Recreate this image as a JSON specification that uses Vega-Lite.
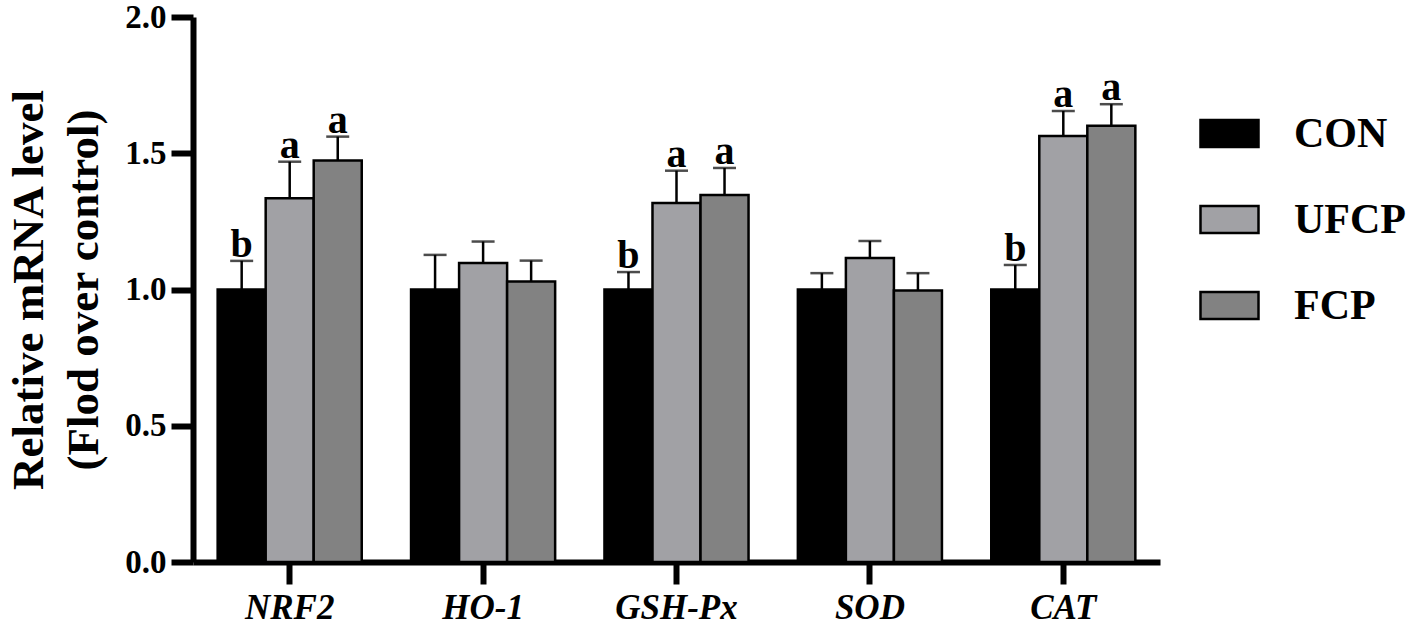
{
  "$schema": "https://vega.github.io/schema/vega-lite/v6.json",
  "autosize": "none",
  "padding": {"left": 193, "top": 17, "right": 257, "bottom": 66},
  "width": 967,
  "height": 545,
  "background": "white",
  "data": {
    "values": [
      {"gene": "NRF2", "group": "CON", "value": 1.0, "upper": 1.105, "letter": "b"},
      {"gene": "NRF2", "group": "UFCP", "value": 1.335, "upper": 1.469, "letter": "a"},
      {"gene": "NRF2", "group": "FCP", "value": 1.473, "upper": 1.561, "letter": "a"},
      {"gene": "HO-1", "group": "CON", "value": 1.0, "upper": 1.127, "letter": ""},
      {"gene": "HO-1", "group": "UFCP", "value": 1.097, "upper": 1.176, "letter": ""},
      {"gene": "HO-1", "group": "FCP", "value": 1.029, "upper": 1.106, "letter": ""},
      {"gene": "GSH-Px", "group": "CON", "value": 1.0, "upper": 1.064, "letter": "b"},
      {"gene": "GSH-Px", "group": "UFCP", "value": 1.317, "upper": 1.436, "letter": "a"},
      {"gene": "GSH-Px", "group": "FCP", "value": 1.347, "upper": 1.446, "letter": "a"},
      {"gene": "SOD", "group": "CON", "value": 1.0, "upper": 1.06, "letter": ""},
      {"gene": "SOD", "group": "UFCP", "value": 1.116, "upper": 1.178, "letter": ""},
      {"gene": "SOD", "group": "FCP", "value": 0.996, "upper": 1.06, "letter": ""},
      {"gene": "CAT", "group": "CON", "value": 1.0, "upper": 1.09, "letter": "b"},
      {"gene": "CAT", "group": "UFCP", "value": 1.563, "upper": 1.655, "letter": "a"},
      {"gene": "CAT", "group": "FCP", "value": 1.601, "upper": 1.68, "letter": "a"}
    ]
  },
  "config": {
    "view": {"stroke": null},
    "font": "Liberation Serif",
    "axis": {
      "domainColor": "black",
      "domainWidth": 6,
      "tickColor": "black",
      "tickWidth": 6,
      "tickSize": 22,
      "grid": false,
      "labelFont": "Liberation Serif",
      "labelFontWeight": "bold",
      "labelColor": "black",
      "titleColor": "black"
    }
  },
  "encoding": {
    "x": {
      "field": "gene",
      "type": "nominal",
      "sort": ["NRF2", "HO-1", "GSH-Px", "SOD", "CAT"],
      "scale": {"paddingInner": 0.255, "paddingOuter": 0.1275},
      "axis": {
        "title": null,
        "labelAngle": 0,
        "labelFontSize": 35,
        "labelFontStyle": "italic",
        "labelPadding": 6
      }
    },
    "xOffset": {
      "field": "group",
      "type": "nominal",
      "sort": ["CON", "UFCP", "FCP"],
      "scale": {"paddingInner": 0, "paddingOuter": 0}
    }
  },
  "layer": [
    {
      "mark": {"type": "bar", "stroke": "black", "strokeWidth": 2.5},
      "encoding": {
        "y": {
          "field": "value",
          "type": "quantitative",
          "scale": {"domain": [0, 2], "nice": false},
          "axis": {
            "values": [0, 0.5, 1, 1.5, 2],
            "format": ".1f",
            "labelFontSize": 33,
            "labelPadding": 5,
            "title": ["Relative mRNA level", "(Flod over control)"],
            "titleFont": "Liberation Serif",
            "titleFontSize": 45,
            "titleFontWeight": "bold",
            "titleLineHeight": 55,
            "titlePadding": 18
          }
        },
        "color": {
          "field": "group",
          "type": "nominal",
          "sort": ["CON", "UFCP", "FCP"],
          "scale": {"domain": ["CON", "UFCP", "FCP"], "range": ["#000000", "#a1a1a5", "#828282"]},
          "legend": {
            "title": null,
            "orient": "none",
            "legendX": 1006,
            "legendY": 86,
            "padding": 0,
            "symbolType": "M-1,-0.466H1V0.466H-1Z",
            "symbolSize": 3364,
            "symbolStrokeColor": "black",
            "symbolStrokeWidth": 2.5,
            "symbolOpacity": 1,
            "labelFont": "Liberation Serif",
            "labelFontSize": 42,
            "labelFontWeight": "bold",
            "labelColor": "black",
            "labelOffset": 34,
            "rowPadding": 34
          }
        }
      }
    },
    {
      "mark": {"type": "rule", "color": "black", "strokeWidth": 2.5},
      "encoding": {
        "y": {"field": "value", "type": "quantitative"},
        "y2": {"field": "upper"}
      }
    },
    {
      "mark": {"type": "tick", "color": "black", "size": 23, "thickness": 2.5, "orient": "horizontal"},
      "encoding": {
        "y": {"field": "upper", "type": "quantitative"}
      }
    },
    {
      "mark": {"type": "text", "baseline": "alphabetic", "dy": -4, "fontSize": 40, "fontWeight": "bold", "font": "Liberation Serif", "color": "black"},
      "encoding": {
        "y": {"field": "upper", "type": "quantitative"},
        "text": {"field": "letter"}
      }
    }
  ]
}
